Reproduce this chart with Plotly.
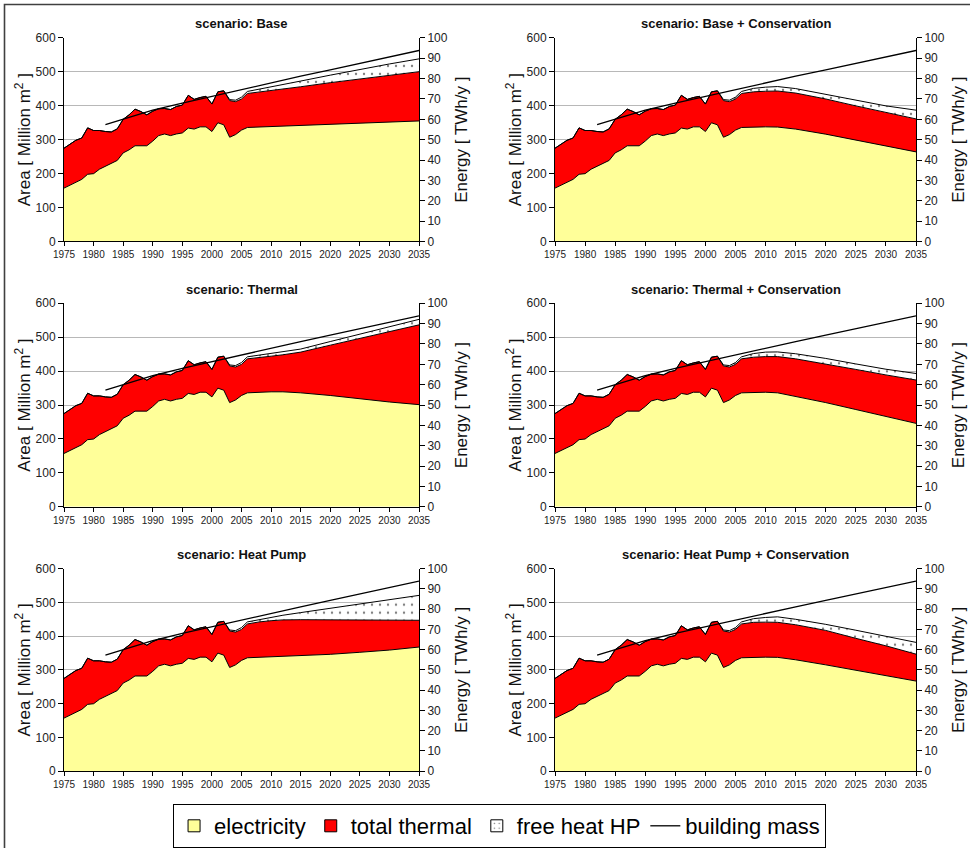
import plotly.graph_objects as go

# ---------------------------------------------------------------------------
# Data
# ---------------------------------------------------------------------------
YEARS_HIST = list(range(1975, 2007))
YEARS_PROJ = [2008, 2010, 2012, 2015, 2020, 2025, 2030, 2035]

# historical energy use, TWh/y (common to all scenarios)
ELEC_HIST = [26.2, 27.6, 29.0, 30.5, 33.0, 33.3, 35.5, 36.8, 38.2, 39.8,
             43.5, 45.0, 47.0, 47.0, 47.0, 49.3, 52.0, 52.8, 52.0, 52.8,
             53.3, 55.7, 55.2, 56.3, 56.3, 54.0, 58.3, 57.3, 51.2, 52.5,
             54.7, 56.0]
THERMAL_HIST = [19.6, 20.2, 20.7, 20.3, 22.8, 21.2, 19.0, 17.2, 15.6, 15.5,
                16.5, 17.2, 18.0, 16.8, 15.2, 14.7, 13.2, 12.5, 12.8, 13.5,
                13.7, 16.1, 14.6, 14.4, 15.0, 13.5, 15.2, 16.7, 18.0, 16.2,
                15.3, 16.7]
FREE_HIST = [0.0] * 28 + [0.5, 0.7, 0.9, 1.0]

# projections, TWh/y
ELEC_BASE = [56.2, 56.5, 56.7, 57.0, 57.7, 58.2, 58.7, 59.2]
THERMAL_BASE = [17.2, 17.7, 18.2, 19.0, 20.3, 21.7, 23.0, 24.2]
FREE_BASE = [1.5, 1.8, 2.3, 2.8, 3.7, 4.7, 5.5, 6.3]

ELEC_BASE_CONS = [56.3, 56.3, 56.2, 55.2, 52.7, 49.8, 47.0, 44.0]
THERMAL_BASE_CONS = [17.2, 17.5, 17.7, 17.7, 17.3, 16.8, 16.3, 16.2]
FREE_BASE_CONS = [1.7, 2.0, 2.2, 2.2, 2.3, 2.7, 3.3, 4.3]

ELEC_THERMAL = [56.3, 56.5, 56.5, 56.0, 54.7, 53.0, 51.5, 50.2]
THERMAL_THERMAL = [17.2, 17.5, 18.2, 20.0, 24.7, 29.8, 34.5, 39.2]
FREE_THERMAL = [1.0, 1.2, 1.3, 1.5, 1.8, 2.0, 2.3, 2.7]

ELEC_THERMAL_CONS = [56.3, 56.3, 56.0, 54.2, 51.2, 47.8, 44.3, 41.0]
THERMAL_THERMAL_CONS = [17.2, 17.5, 17.8, 18.5, 19.0, 19.7, 20.5, 21.3]
FREE_THERMAL_CONS = [1.8, 2.2, 2.3, 2.5, 2.7, 2.7, 2.8, 3.2]

ELEC_HP = [56.2, 56.5, 56.7, 57.0, 57.7, 58.7, 59.8, 61.3]
THERMAL_HP = [17.5, 17.8, 18.0, 17.8, 17.0, 15.8, 14.7, 13.2]
FREE_HP = [1.2, 1.7, 2.3, 3.5, 5.7, 7.8, 10.0, 12.3]

ELEC_HP_CONS = [56.3, 56.3, 56.2, 55.0, 52.5, 49.8, 47.2, 44.5]
THERMAL_HP_CONS = [17.2, 17.3, 17.3, 17.3, 17.0, 15.8, 14.7, 13.3]
FREE_HP_CONS = [1.8, 2.3, 2.7, 2.7, 3.0, 4.0, 4.8, 5.8]

# heated building floor area, million m2
BUILDING_YEARS = [1982, 1985, 1990, 1995, 2000, 2005, 2010, 2015, 2020,
                  2025, 2030, 2035]
BUILDING_MASS = [344, 360, 387, 408, 428, 449, 468, 487, 506, 525, 544, 563]

SCENARIOS = [
    ("scenario: Base", ELEC_BASE, THERMAL_BASE, FREE_BASE),
    ("scenario: Base + Conservation", ELEC_BASE_CONS, THERMAL_BASE_CONS, FREE_BASE_CONS),
    ("scenario: Thermal", ELEC_THERMAL, THERMAL_THERMAL, FREE_THERMAL),
    ("scenario: Thermal + Conservation", ELEC_THERMAL_CONS, THERMAL_THERMAL_CONS, FREE_THERMAL_CONS),
    ("scenario: Heat Pump", ELEC_HP, THERMAL_HP, FREE_HP),
    ("scenario: Heat Pump + Conservation", ELEC_HP_CONS, THERMAL_HP_CONS, FREE_HP_CONS),
]

# ---------------------------------------------------------------------------
# Layout geometry (pixels of a 970 x 848 page)
# ---------------------------------------------------------------------------
W, H = 970, 848
COLS = [(64, 419), (555, 916)]
ROWS = [(38, 242), (304, 508), (570, 773)]

FONT = "Arial, Liberation Sans, sans-serif"
YELLOW = "#FFFF99"
RED = "#FF0000"
DOTS = dict(shape=".", fgcolor="black", bgcolor="white", size=8, solidity=0.07)

fig = go.Figure()
layout = dict(
    width=W, height=H,
    margin=dict(l=0, r=0, t=0, b=0),
    paper_bgcolor="white", plot_bgcolor="white",
    font=dict(family=FONT, color="#222222"),
    showlegend=True,
    annotations=[], shapes=[],
)

# legend swatches (square keys with a black border)
for name, marker in [
    ("electricity", dict(color=YELLOW)),
    ("total thermal", dict(color=RED)),
    ("free heat HP", dict(color="white",
                          pattern=dict(shape=".", fgcolor="black", bgcolor="white",
                                       size=6, solidity=0.08))),
]:
    fig.add_trace(go.Bar(x=[None], y=[None], name=name,
                         marker=dict(line=dict(color="black", width=1), **marker),
                         xaxis="x", yaxis="y", hoverinfo="skip"))

years = YEARS_HIST + YEARS_PROJ

for k, (title, elec, thermal, free) in enumerate(SCENARIOS):
    r, c = divmod(k, 2)
    x0, x1 = COLS[c]
    ytop, ybot = ROWS[r]
    xid = "x" if k == 0 else f"x{k + 1}"
    ye_id = "y" if k == 0 else f"y{2 * k + 1}"   # energy axis (main)
    ya_id = f"y{2 * k + 2}"                       # area axis (overlay)
    xname = "xaxis" if k == 0 else f"xaxis{k + 1}"
    ye_name = "yaxis" if k == 0 else f"yaxis{2 * k + 1}"
    ya_name = f"yaxis{2 * k + 2}"

    series = [
        ("electricity", ELEC_HIST + elec, dict(fillcolor=YELLOW)),
        ("total thermal", THERMAL_HIST + thermal, dict(fillcolor=RED)),
        ("free heat HP", FREE_HIST + free,
         dict(fillcolor="white", fillpattern=DOTS)),
    ]
    for name, vals, style in series:
        fig.add_trace(go.Scatter(
            x=years, y=vals, name=name, stackgroup=f"s{k}",
            mode="lines", line=dict(color="black", width=1),
            xaxis=xid, yaxis=ye_id, showlegend=False,
            hoverinfo="x+y", **style))

    fig.add_trace(go.Scatter(
        x=BUILDING_YEARS, y=BUILDING_MASS, name="building mass",
        mode="lines", line=dict(color="black", width=1.3),
        xaxis=xid, yaxis=ya_id, showlegend=(k == 0)))

    layout[xname] = dict(
        domain=[x0 / W, x1 / W], anchor=ye_id, range=[1975, 2035],
        tickvals=list(range(1975, 2036, 5)), ticks="outside", ticklen=4,
        tickcolor="black", showline=True, linecolor="black", linewidth=1,
        showgrid=False, zeroline=False, automargin=False,
        tickfont=dict(size=10, family=FONT, color="#222222"),
    )
    layout[ye_name] = dict(
        domain=[1 - ybot / H, 1 - ytop / H], anchor=xid, side="right",
        range=[0, 100], dtick=10, ticks="outside", ticklen=5,
        tickcolor="black", showline=True, linecolor="black", linewidth=1,
        showgrid=False, zeroline=False, automargin=False,
        tickfont=dict(size=12, family=FONT, color="#222222"),
        title=dict(text="Energy [ TWh/y ]", standoff=8,
                   font=dict(size=17, family=FONT, color="#111111")),
    )
    layout[ya_name] = dict(
        overlaying=ye_id, anchor=xid, side="left",
        range=[0, 600], dtick=100, ticks="outside", ticklen=5,
        tickcolor="black", showline=True, linecolor="black", linewidth=1,
        showgrid=False, zeroline=False, automargin=False,
        minor=dict(tickvals=[100, 200, 300, 400, 500], showgrid=True,
                   gridcolor="#b8b8b8", gridwidth=1, ticks=""),
        tickfont=dict(size=12, family=FONT, color="#222222"),
        title=dict(text="Area [ Million m<sup>2</sup> ]", standoff=0,
                   font=dict(size=17, family=FONT, color="#111111")),
    )
    layout["annotations"].append(dict(
        text=f"<b>{title}</b>", xref="paper", yref="paper",
        x=(x0 + x1) / 2 / W, y=1 - (ytop - 14) / H,
        xanchor="center", yanchor="middle", showarrow=False,
        font=dict(size=13, family=FONT, color="#111111")))

# outer chart frame
layout["shapes"].append(dict(
    type="rect", xref="paper", yref="paper",
    x0=4.5 / W, x1=1.02, y0=-0.02, y1=1 - 4.5 / H,
    line=dict(color="#404040", width=1.6), fillcolor="rgba(0,0,0,0)",
    layer="above"))

layout["legend"] = dict(
    orientation="h", x=0.515, xanchor="center", y=1 - 828 / H,
    yanchor="middle", bgcolor="white", bordercolor="black", borderwidth=1,
    font=dict(size=22, family=FONT, color="black"),
    itemwidth=30, tracegroupgap=0, traceorder="normal",
)

fig.update_layout(**layout)
fig.write_html("out.html")
